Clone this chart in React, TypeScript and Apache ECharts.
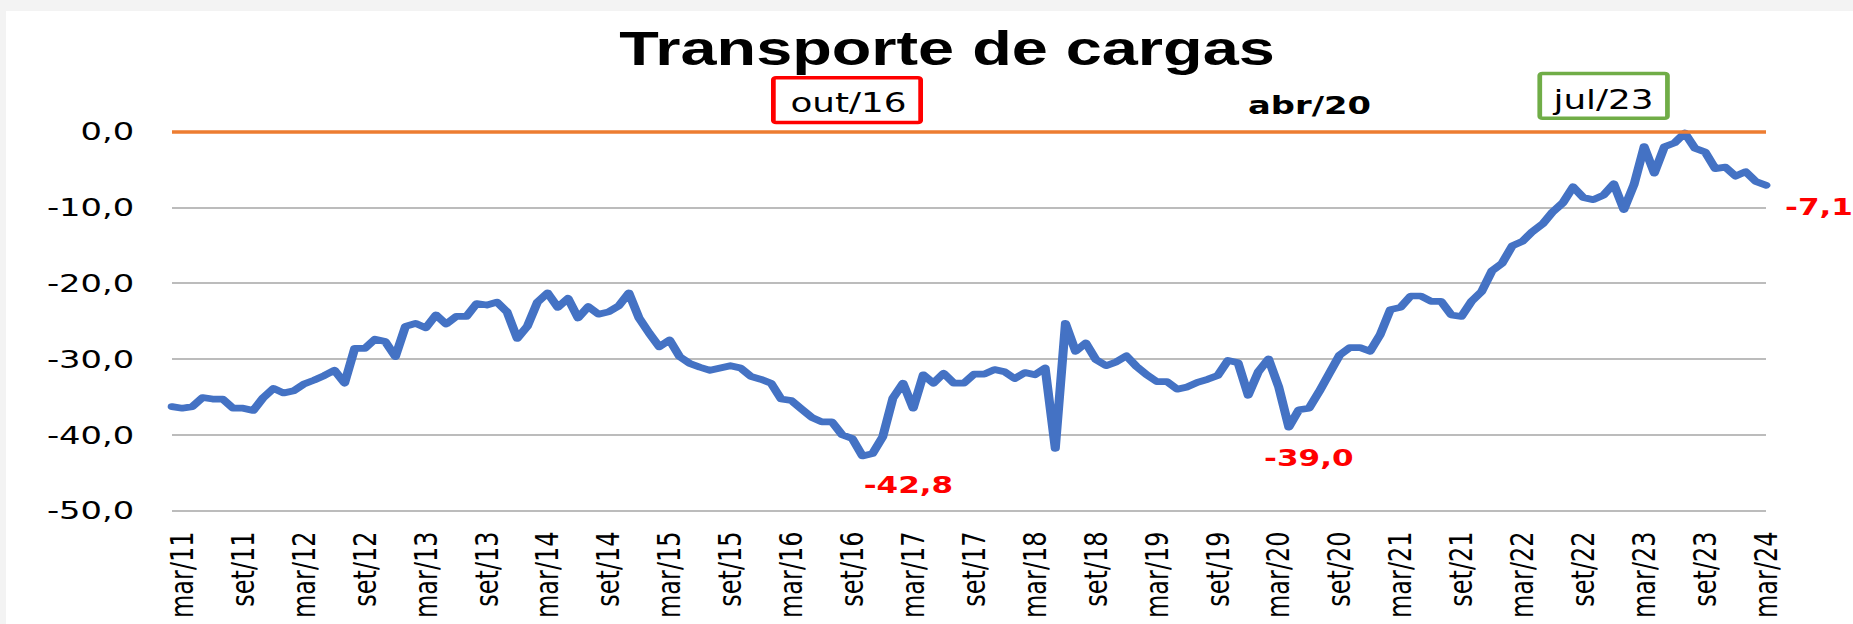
import React, { useEffect, useRef } from 'react';
import * as echarts from 'echarts';

// The reference picture is horizontally stretched; the chart is drawn narrower and scaled in X.
const STRETCH = 1.35;
const PAGE_W = 1853;
const PAGE_H = 624;
const CHART_W = PAGE_W / STRETCH;

const MONTH_NAMES = ['jan', 'fev', 'mar', 'abr', 'mai', 'jun', 'jul', 'ago', 'set', 'out', 'nov', 'dez'];
const START_YEAR = 2011;
const START_MONTH = 1; // fev/11

// Monthly index values, fev/11 .. mar/24
const values: number[] = [
  -36.3, -36.5, -36.3, -35.1, -35.3, -35.3, -36.5, -36.5, -36.8, -35.1,
  -33.9, -34.5, -34.2, -33.3, -32.8, -32.2, -31.5, -33.2, -28.6, -28.6,
  -27.4, -27.7, -29.7, -25.7, -25.3, -25.9, -24.2, -25.4, -24.4, -24.4,
  -22.7, -22.9, -22.5, -23.8, -27.3, -25.7, -22.5, -21.3, -23.2, -22.0,
  -24.6, -23.1, -24.1, -23.8, -23.0, -21.3, -24.6, -26.6, -28.4, -27.5,
  -29.7, -30.6, -31.1, -31.5, -31.2, -30.9, -31.2, -32.3, -32.7, -33.2,
  -35.3, -35.5, -36.6, -37.7, -38.3, -38.3, -40.0, -40.5, -42.8, -42.5,
  -40.3, -35.2, -33.2, -36.5, -32.1, -33.2, -31.9, -33.2, -33.2, -32.0,
  -32.0, -31.4, -31.7, -32.6, -31.8, -32.1, -31.2, -41.8, -25.3, -29.0,
  -27.9, -30.1, -30.9, -30.4, -29.6, -31.0, -32.1, -33.0, -33.0, -34.0,
  -33.7, -33.1, -32.7, -32.2, -30.2, -30.5, -34.8, -31.7, -30.0, -33.7,
  -39.0, -36.7, -36.5, -34.3, -31.9, -29.5, -28.5, -28.5, -29.0, -26.8,
  -23.5, -23.2, -21.7, -21.7, -22.4, -22.4, -24.2, -24.4, -22.4, -21.1,
  -18.4, -17.4, -15.1, -14.5, -13.2, -12.2, -10.6, -9.4, -7.3, -8.7,
  -9.0, -8.4, -6.9, -10.3, -7.0, -2.0, -5.5, -2.0, -1.5, -0.2,
  -2.2, -2.7, -4.9, -4.7, -5.9, -5.3, -6.6, -7.1,
];

const categories: string[] = values.map((_, i) => {
  const m = START_MONTH + i;
  const yy = (START_YEAR + Math.floor(m / 12)) % 100;
  return MONTH_NAMES[m % 12] + '/' + String(yy).padStart(2, '0');
});

const Y_MIN = -50;
const Y_MAX = 0;
const Y_STEP = 10;
const REFERENCE_LEVEL = 0;

const TITLE = 'Transporte de cargas';
const LABELLED_MONTHS = ['out/16', 'abr/20', 'mar/24'];
const BOXED_NOTES = ['out/16', 'jul/23'];
const PLAIN_NOTES = ['abr/20'];

const fmt = (v: number) => v.toFixed(1).replace('.', ',');
const X = (px: number) => px / STRETCH; // picture x -> chart x

export default function App() {
  const ref = useRef<HTMLDivElement>(null);

  useEffect(() => {
    document.body.style.margin = '0';
    if (!ref.current) return;
    const chart = echarts.init(ref.current, undefined, { renderer: 'svg' });

    const labelOffsets: Record<string, [number, number]> = {
      'out/16': [X(46), 29],
      'abr/20': [X(20), 31],
      'mar/24': [X(53), 22],
    };

    const boxGeom: Record<string, { x0: number; x1: number; y0: number; y1: number; color: string; tx: number; ty: number }> = {
      'out/16': { x0: 771, x1: 923, y0: 76, y1: 124.3, color: '#FF0000', tx: 848.5, ty: 102.5 },
      'jul/23': { x0: 1537.4, x1: 1669.8, y0: 71.7, y1: 120, color: '#70AD47', tx: 1603.5, ty: 100 },
    };
    const plainGeom: Record<string, { tx: number; ty: number }> = {
      'abr/20': { tx: 1309.5, ty: 104.7 },
    };

    const BW = 3.5;
    const graphic: any[] = [];
    BOXED_NOTES.forEach((t) => {
      const g = boxGeom[t];
      graphic.push({
        type: 'rect',
        shape: {
          x: X(g.x0) + BW / 2,
          y: g.y0 + BW / 2,
          width: X(g.x1) - X(g.x0) - BW,
          height: g.y1 - g.y0 - BW,
          r: 2,
        },
        style: { fill: '#ffffff', stroke: g.color, lineWidth: BW },
        z: 10,
      });
      graphic.push({
        type: 'text',
        x: X(g.tx),
        y: g.ty,
        style: {
          text: t,
          fill: '#000',
          font: '26.5px "DejaVu Sans"',
          textAlign: 'center',
          textVerticalAlign: 'middle',
        },
        z: 11,
      });
    });
    PLAIN_NOTES.forEach((t) => {
      const g = plainGeom[t];
      graphic.push({
        type: 'text',
        x: X(g.tx),
        y: g.ty,
        style: {
          text: t,
          fill: '#000',
          font: 'bold 25px "DejaVu Sans"',
          textAlign: 'center',
          textVerticalAlign: 'middle',
        },
        z: 11,
      });
    });

    const option: any = {
      animation: false,
      backgroundColor: 'transparent',
      title: {
        text: TITLE,
        left: X(947),
        top: 24,
        textAlign: 'center',
        padding: 0,
        textStyle: {
          fontFamily: '"Liberation Sans", Arial, sans-serif',
          fontWeight: 'bold',
          fontSize: 48,
          color: '#000',
        },
      },
      grid: {
        left: X(172),
        top: 131.5,
        width: X(1766) - X(172),
        height: 379,
        containLabel: false,
      },
      xAxis: {
        type: 'category',
        data: categories,
        boundaryGap: false,
        axisLine: { show: false },
        axisTick: { show: false },
        splitLine: { show: false },
        axisLabel: {
          interval: (i: number) => (i - 1) % 6 === 0,
          rotate: 90,
          margin: 21,
          fontFamily: '"DejaVu Sans"',
          fontSize: 24,
          color: '#000',
        },
      },
      yAxis: {
        type: 'value',
        min: Y_MIN,
        max: Y_MAX,
        interval: Y_STEP,
        axisLine: { show: false },
        axisTick: { show: false },
        splitLine: { lineStyle: { color: '#a6a6a6', width: 1.5 } },
        axisLabel: {
          formatter: (v: number) => fmt(v),
          margin: 28,
          fontFamily: '"DejaVu Sans"',
          fontSize: 25,
          color: '#000',
        },
      },
      series: [
        {
          name: 'ref',
          type: 'line',
          data: [],
          z: 1,
          silent: true,
          markLine: {
            silent: true,
            symbol: ['none', 'none'],
            label: { show: false },
            lineStyle: { color: '#ED7D31', width: 3.5, type: 'solid' },
            data: [{ yAxis: REFERENCE_LEVEL }],
          },
        },
        {
          name: 'Transporte de cargas',
          type: 'line',
          data: values,
          z: 3,
          symbol: 'none',
          showSymbol: false,
          lineStyle: { color: '#4472C4', width: 6.7, cap: 'round', join: 'round' },
          markPoint: {
            symbol: 'circle',
            symbolSize: 0,
            itemStyle: { color: 'transparent' },
            label: {
              show: true,
              position: 'inside',
              color: '#FF0000',
              fontFamily: '"DejaVu Sans"',
              fontWeight: 'bold',
              fontSize: 23,
              formatter: (p: any) => fmt(p.value),
            },
            data: LABELLED_MONTHS.map((m) => {
              const idx = categories.indexOf(m);
              return {
                coord: [m, values[idx]],
                value: values[idx],
                label: { offset: labelOffsets[m] },
              };
            }),
          },
        },
      ],
      graphic,
    };

    chart.setOption(option);
    return () => chart.dispose();
  }, []);

  return (
    <div
      style={{
        position: 'relative',
        width: PAGE_W,
        height: PAGE_H,
        background: '#f3f3f3',
        overflow: 'hidden',
      }}
    >
      <div style={{ position: 'absolute', left: 5.5, top: 11, right: 0, bottom: 0, background: '#ffffff' }} />
      <div
        ref={ref}
        style={{
          position: 'absolute',
          left: 0,
          top: 0,
          width: CHART_W,
          height: PAGE_H,
          transform: `scaleX(${STRETCH})`,
          transformOrigin: '0 0',
        }}
      />
    </div>
  );
}
